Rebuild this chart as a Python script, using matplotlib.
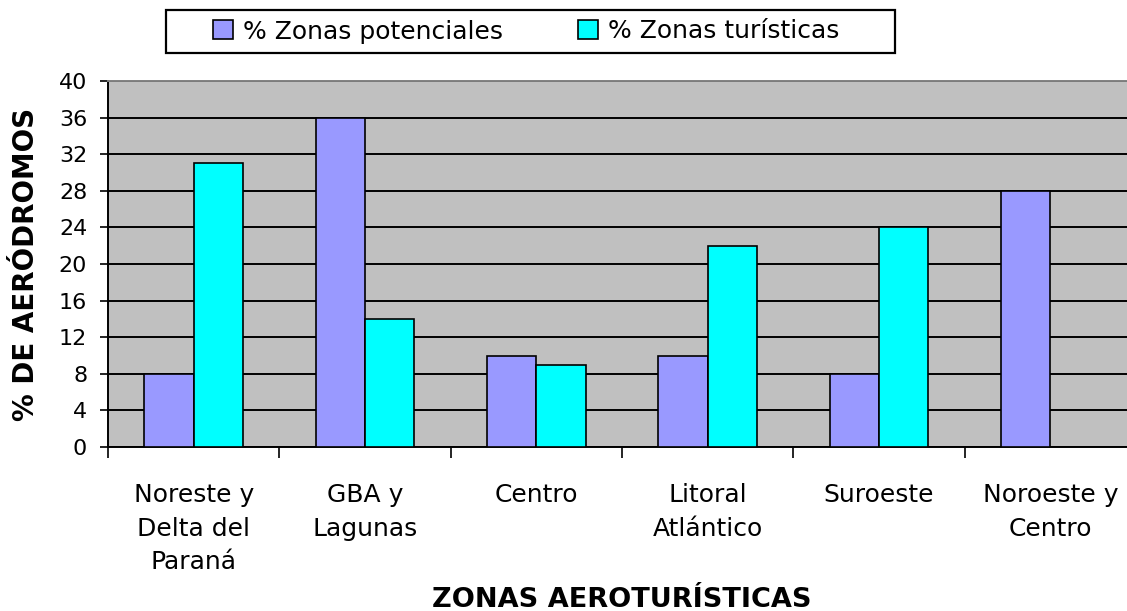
import numpy as np
import matplotlib.pyplot as plt
from matplotlib.patches import Rectangle

# datos
zonas = ["Noreste y\nDelta del\nParaná", "GBA y\nLagunas", "Centro",
         "Litoral\nAtlántico", "Suroeste", "Noroeste y\nCentro"]
potenciales = [8, 36, 10, 10, 8, 28]
turisticas = [31, 14, 9, 22, 24, 0]
yticks = list(range(0, 41, 4))

plt.rcParams["font.family"] = "DejaVu Sans"

W, H = 1127, 611
fig = plt.figure(figsize=(W / 100, H / 100), dpi=100)
fig.patch.set_facecolor("white")

# area de trazado (se corta por la derecha, como en el original)
ax = fig.add_axes([108 / W, (H - 447) / H, 1028 / W, 366 / H])
ax.set_facecolor("#C0C0C0")

x = np.arange(len(zonas))
w = 0.287
b1 = ax.bar(x - w / 2, potenciales, w, color="#9999FF", edgecolor="black",
            linewidth=1.2, label="% Zonas potenciales", zorder=3)
b2 = ax.bar(x + w / 2, turisticas, w, color="#00FFFF", edgecolor="black",
            linewidth=1.2, label="% Zonas turísticas", zorder=3)

ax.set_xlim(-0.5, len(zonas) - 0.5)
ax.set_ylim(0, 40)
ax.set_yticks(yticks)
ax.tick_params(axis="y", labelsize=16, length=6, width=1.2, direction="out", pad=9)
ax.yaxis.grid(True, color="black", linewidth=1.4, zorder=1)
ax.set_axisbelow(True)

# ticks del eje x en los limites entre categorias
ax.set_xticks(np.arange(-0.5, len(zonas), 1))
ax.set_xticklabels([])
ax.set_xticks(x, minor=True)
ax.set_xticklabels(zonas, minor=True, fontsize=18, linespacing=1.5)
ax.tick_params(axis="x", which="major", length=8, width=1.2, direction="out")
ax.tick_params(axis="x", which="minor", length=0, pad=26)

for s in ["left", "bottom"]:
    ax.spines[s].set_linewidth(1.4)
    ax.spines[s].set_color("black")
ax.spines["top"].set_color("#808080")
ax.spines["top"].set_linewidth(1.4)
ax.spines["right"].set_visible(False)

ax.set_ylabel("% DE AERÓDROMOS", fontsize=20, fontweight="bold")
ax.yaxis.set_label_coords((40 - 108) / 1028, 0.5)
fig.text(622 / W, 1 - 600 / H, "ZONAS AEROTURÍSTICAS", fontsize=19.5,
         fontweight="bold", ha="center", va="center")

# leyenda con marco dibujado aparte
leg = fig.legend(handles=[b1, b2], loc="center", ncol=2,
                 bbox_to_anchor=(526 / W, 1 - 31.5 / H), fontsize=18,
                 frameon=False, handlelength=0.8, handleheight=0.8,
                 handletextpad=0.4, columnspacing=3.0, borderaxespad=0)
fig.patches.append(Rectangle((166 / W, 1 - 53 / H), 729 / W, 43 / H,
                             transform=fig.transFigure, fill=False,
                             edgecolor="black", linewidth=1.6))

fig.savefig("out.png", dpi=100)
